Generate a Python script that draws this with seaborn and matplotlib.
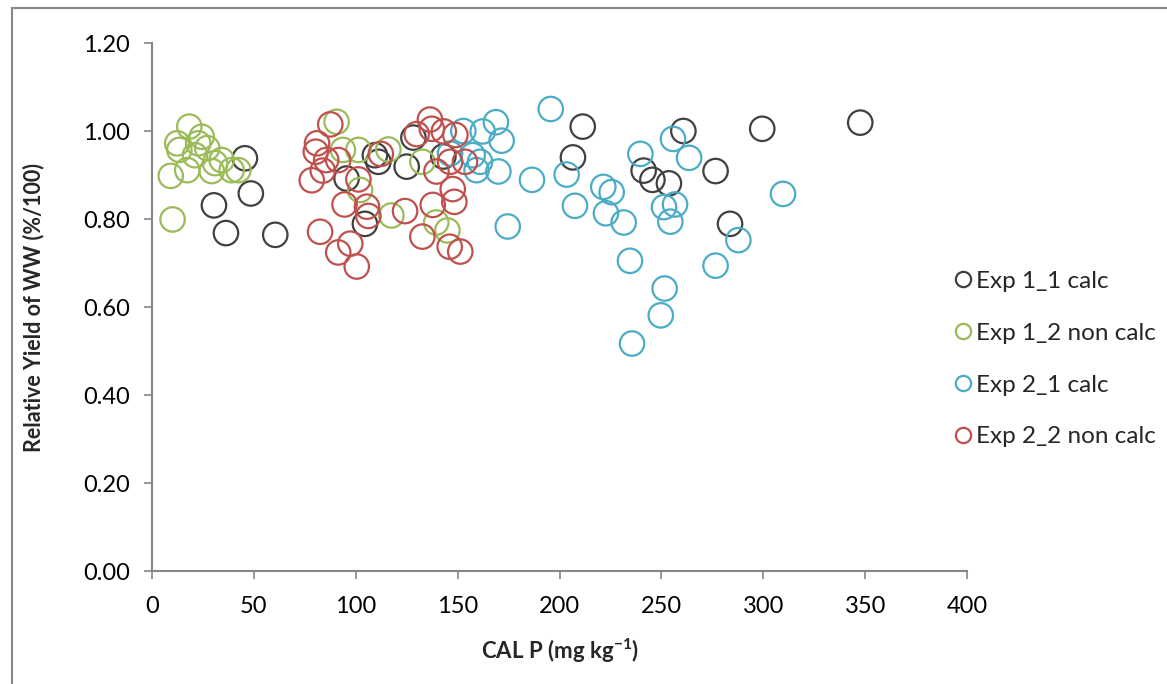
import matplotlib
matplotlib.use("Agg")
import matplotlib.pyplot as plt
from matplotlib.lines import Line2D
from matplotlib.patches import Rectangle
import seaborn as sns
import pandas as pd

# ---- data ----
exp11_x = [45.6, 48.5, 30.4, 36.3, 60.5, 95.5, 104.5, 109.4, 111.1, 125.0, 128.3, 143.0,
           206.6, 211.4, 241.3, 245.6, 253.7, 260.8, 276.6, 283.7, 299.5, 347.6]
exp11_y = [0.938, 0.858, 0.831, 0.768, 0.764, 0.892, 0.789, 0.945, 0.930, 0.919, 0.985, 0.942,
           0.940, 1.010, 0.910, 0.889, 0.881, 1.000, 0.909, 0.789, 1.005, 1.019]

exp12_x = [18.3, 12.4, 24.4, 22.7, 27.1, 13.4, 21.1, 34.2, 30.9, 9.2, 17.3, 29.3, 39.1, 42.4, 10.1,
           90.6, 93.7, 101.3, 116.0, 102.1, 117.5, 132.7, 139.5, 145.0]
exp12_y = [1.010, 0.972, 0.987, 0.972, 0.961, 0.957, 0.945, 0.934, 0.927, 0.898, 0.911, 0.909, 0.911, 0.911, 0.799,
           1.021, 0.957, 0.957, 0.958, 0.866, 0.808, 0.930, 0.792, 0.774]

exp21_x = [146.3, 152.8, 157.4, 159.3, 161.0, 162.3, 168.8, 170.0, 171.6, 174.6, 186.5, 195.7,
           203.5, 207.6, 221.5, 225.6, 222.8, 231.5, 234.6, 235.6, 239.7, 249.7, 251.3, 251.6,
           254.4, 255.7, 256.7, 263.6, 276.6, 287.8, 309.7]
exp21_y = [0.949, 1.000, 0.945, 0.911, 0.930, 0.999, 1.020, 0.908, 0.978, 0.783, 0.889, 1.050,
           0.901, 0.830, 0.873, 0.861, 0.813, 0.792, 0.705, 0.517, 0.948, 0.581, 0.827, 0.642,
           0.794, 0.982, 0.833, 0.939, 0.694, 0.752, 0.857]

exp22_x = [87.5, 81.0, 80.4, 85.5, 91.4, 83.8, 78.4, 101.3, 112.3, 94.5, 105.5, 106.2, 124.2,
           82.5, 97.3, 91.4, 100.5, 136.4, 137.3, 129.9, 143.2, 148.9, 153.6, 146.3, 139.6,
           147.6, 148.4, 137.8, 132.7, 146.1, 151.3]
exp22_y = [1.015, 0.972, 0.953, 0.934, 0.934, 0.910, 0.888, 0.890, 0.948, 0.833, 0.828, 0.807, 0.818,
           0.771, 0.744, 0.724, 0.692, 1.026, 1.005, 0.993, 0.999, 0.991, 0.930, 0.930, 0.908,
           0.868, 0.839, 0.832, 0.760, 0.737, 0.726]

series_names = ["Exp 1_1 calc", "Exp 1_2 non calc", "Exp 2_1 calc", "Exp 2_2 non calc"]
series_colors = ["#404040", "#9BBB59", "#4BACC6", "#C0504D"]
x_ticks = [0, 50, 100, 150, 200, 250, 300, 350, 400]
y_ticks = [0.0, 0.2, 0.4, 0.6, 0.8, 1.0, 1.2]

frames = []
for name, xs, ys in zip(series_names, [exp11_x, exp12_x, exp21_x, exp22_x],
                        [exp11_y, exp12_y, exp21_y, exp22_y]):
    frames.append(pd.DataFrame({"CAL P": xs, "RY": ys, "Series": name}))
df = pd.concat(frames, ignore_index=True)

sns.set_theme(style="white")
plt.rcParams["font.family"] = ["Lato", "DejaVu Sans"]

fig = plt.figure(figsize=(11.67, 6.84), dpi=100)
ax = fig.add_axes([152 / 1167, 1 - 571 / 684, (967 - 152) / 1167, (571 - 43) / 684])

sns.scatterplot(data=df, x="CAL P", y="RY", hue="Series", hue_order=series_names,
                palette=series_colors, s=310, linewidth=1.6, ax=ax, legend=False)
coll = ax.collections[0]
fc = coll.get_facecolors()
coll.set_edgecolors(fc)
coll.set_facecolors("none")
coll.set_clip_on(False)

ax.set_xlim(0, 400)
ax.set_ylim(0, 1.2)
ax.set_xticks(x_ticks)
ax.set_yticks(y_ticks)
ax.set_xticklabels([str(v) for v in x_ticks])
ax.set_yticklabels([f"{v:.2f}" for v in y_ticks])
ax.tick_params(axis="both", labelsize=17, colors="#868686", labelcolor="black",
               direction="out", length=6, width=1.2, bottom=True, left=True)
ax.tick_params(axis="x", pad=12)
ax.tick_params(axis="y", pad=10)
for side in ["top", "right"]:
    ax.spines[side].set_visible(False)
for side in ["left", "bottom"]:
    ax.spines[side].set_color("#868686")
    ax.spines[side].set_linewidth(1.5)
ax.grid(False)

ax.set_xlabel("CAL P (mg kg$^{\\mathregular{-1}}$)", fontsize=16, fontweight="bold", labelpad=14)
ax.set_ylabel("Relative Yield of WW (%/100)", fontsize=15.5, fontweight="bold", labelpad=28)

handles = [Line2D([0], [0], marker="o", linestyle="none", markersize=11,
                  markerfacecolor="none", markeredgecolor=c, markeredgewidth=1.6)
           for c in series_colors]
fig.legend(handles, series_names, loc="upper left", bbox_to_anchor=(941 / 1167, 1 - 261 / 684),
           frameon=False, fontsize=17.5, labelspacing=1.27, handletextpad=0.05,
           handlelength=1.0, borderaxespad=0)

# outer chart-area border
fig.patches.append(Rectangle((12 / 1167, -0.05), 1.2, 1 - 8 / 684 + 0.05,
                             transform=fig.transFigure, fill=False,
                             edgecolor="#868686", linewidth=1.5, zorder=0))

fig.savefig("out.png", dpi=100)
